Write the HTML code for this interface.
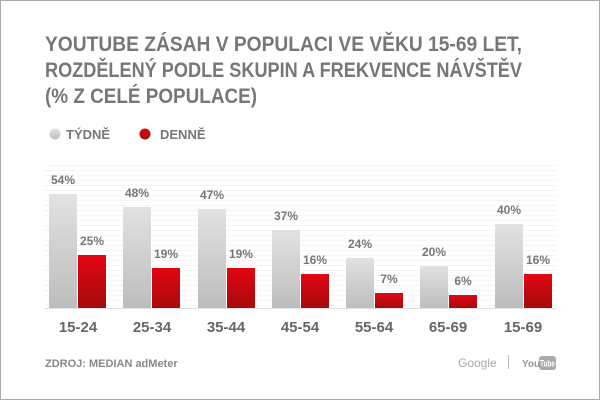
<!DOCTYPE html>
<html><head><meta charset="utf-8"><style>
html,body{margin:0;padding:0;background:#fff;}
svg{display:block;}
text{font-family:"Liberation Sans Narrow","Liberation Sans",sans-serif;font-weight:bold;}
</style></head><body>
<svg width="600" height="400" viewBox="0 0 600 400" xmlns="http://www.w3.org/2000/svg">
<defs>
<linearGradient id="g" x1="0" y1="0" x2="0" y2="1"><stop offset="0" stop-color="#e2e2e2"/><stop offset="1" stop-color="#bdbdbd"/></linearGradient>
<linearGradient id="r" x1="0" y1="0" x2="0" y2="1"><stop offset="0" stop-color="#e30613"/><stop offset="1" stop-color="#a50b0b"/></linearGradient>
<pattern id="ln" width="10" height="5" patternUnits="userSpaceOnUse"><rect width="10" height="1" fill="#f6f6f6"/></pattern>
</defs>
<rect x="0.5" y="0.5" width="599" height="399" fill="#fff" stroke="#aaa"/>
<g fill="#777" font-size="21">
<text x="45" y="51" textLength="477" lengthAdjust="spacingAndGlyphs">YOUTUBE ZÁSAH V POPULACI VE VĚKU 15-69 LET,</text>
<text x="45" y="77" textLength="477" lengthAdjust="spacingAndGlyphs">ROZDĚLENÝ PODLE SKUPIN A FREKVENCE NÁVŠTĚV</text>
<text x="45" y="103" textLength="212" lengthAdjust="spacingAndGlyphs">(% Z CELÉ POPULACE)</text>
</g>
<circle cx="55" cy="134" r="5.5" fill="url(#g)"/>
<text x="66" y="139" font-size="13" fill="#777">TÝDNĚ</text>
<circle cx="145" cy="134" r="5.5" fill="url(#r)"/>
<text x="160" y="139" font-size="13" fill="#777">DENNĚ</text>
<rect x="44" y="163" width="513" height="145" fill="url(#ln)"/>
<line x1="44" y1="308.5" x2="557" y2="308.5" stroke="#e0e0e0"/>
<g font-size="12" fill="#777" text-anchor="middle">
<rect x="49" y="194" width="28" height="114" fill="url(#g)"/><rect x="78" y="255" width="28" height="53" fill="url(#r)"/>
<text x="63" y="184">54%</text><text x="92" y="245">25%</text>
<rect x="123" y="207" width="28" height="101" fill="url(#g)"/><rect x="152" y="268" width="28" height="40" fill="url(#r)"/>
<text x="137" y="197">48%</text><text x="166" y="258">19%</text>
<rect x="198" y="209" width="28" height="99" fill="url(#g)"/><rect x="227" y="268" width="28" height="40" fill="url(#r)"/>
<text x="212" y="199">47%</text><text x="241" y="258">19%</text>
<rect x="272" y="230" width="28" height="78" fill="url(#g)"/><rect x="301" y="274" width="28" height="34" fill="url(#r)"/>
<text x="286" y="220">37%</text><text x="315" y="264">16%</text>
<rect x="346" y="258" width="28" height="50" fill="url(#g)"/><rect x="375" y="293" width="28" height="15" fill="url(#r)"/>
<text x="360" y="248">24%</text><text x="389" y="283">7%</text>
<rect x="420" y="266" width="28" height="42" fill="url(#g)"/><rect x="449" y="295" width="28" height="13" fill="url(#r)"/>
<text x="434" y="256">20%</text><text x="463" y="285">6%</text>
<rect x="495" y="224" width="28" height="84" fill="url(#g)"/><rect x="524" y="274" width="28" height="34" fill="url(#r)"/>
<text x="509" y="214">40%</text><text x="538" y="264">16%</text>
</g>
<g font-size="15" fill="#666" text-anchor="middle">
<text x="78" y="332">15-24</text><text x="152" y="332">25-34</text><text x="226" y="332">35-44</text><text x="300" y="332">45-54</text><text x="374" y="332">55-64</text><text x="448" y="332">65-69</text><text x="523" y="332">15-69</text>
</g>
<text x="45" y="367" font-size="11" fill="#888">ZDROJ: MEDIAN adMeter</text>
<text x="458" y="367" font-size="12" fill="#aaa" style="font-weight:normal;font-family:'Liberation Sans',sans-serif">Google</text>
<line x1="508.5" y1="355" x2="508.5" y2="369" stroke="#bbb"/>
<text x="522" y="367" font-size="10" fill="#999">You</text>
<rect x="539" y="356" width="17" height="14" rx="3" fill="#aaa"/>
<text x="540" y="366.5" font-size="9" fill="#fff" textLength="15" lengthAdjust="spacingAndGlyphs">Tube</text>
</svg>
</body></html>
